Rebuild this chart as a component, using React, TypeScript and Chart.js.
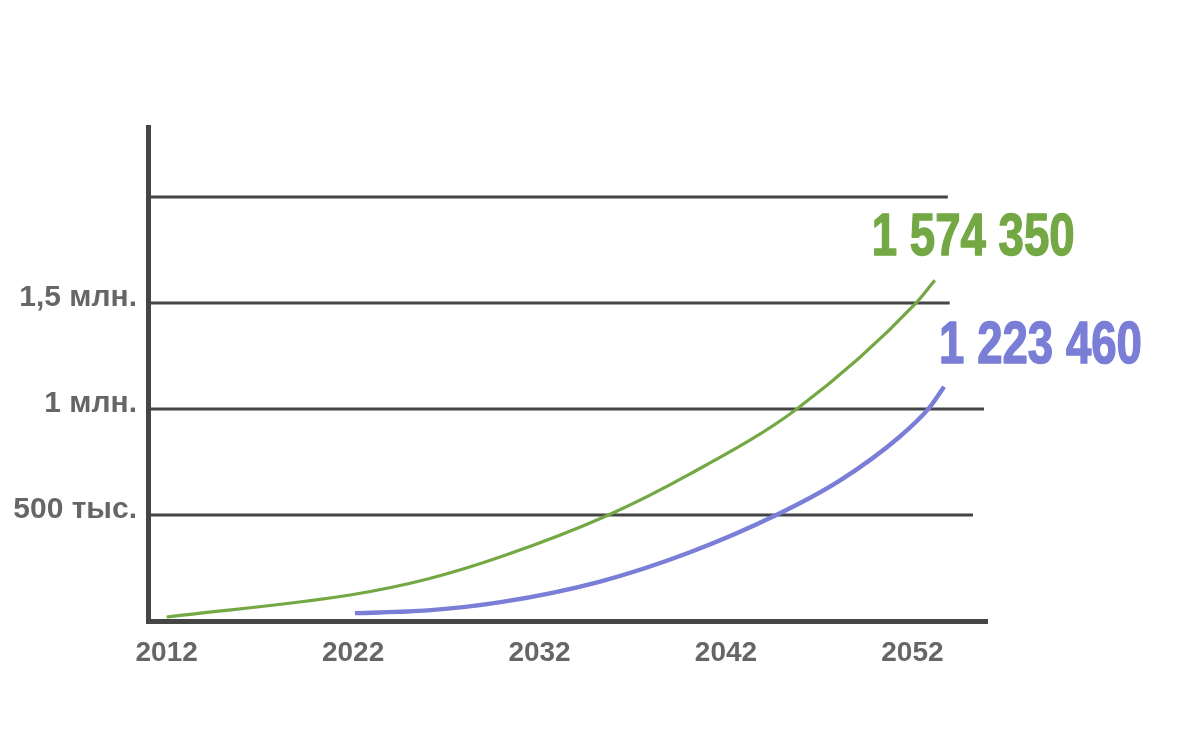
import React, { useEffect, useRef } from 'react';
import { Chart, registerables } from 'chart.js';

Chart.register(...registerables);

// ---- data ----
const greenYears = [2012, 2022, 2026, 2030, 2035.7, 2040, 2045.8, 2052.2, 2053.2];
const greenValues = [19000, 125000, 198000, 305000, 500000, 690000, 1000000, 1500000, 1607000];

const blueYears = [2022.1, 2026, 2030, 2035.2, 2040, 2044.7, 2048.1, 2051.3, 2052.9, 2053.7];
const blueValues = [37000, 50000, 90000, 185000, 322000, 500000, 662000, 868000, 1005000, 1105000];

const xTickYears = [2012, 2022, 2032, 2042, 2052];
const yTickValues = [500000, 1000000, 1500000];
const yTickLabels = ['500 тыс.', '1 млн.', '1,5 млн.'];
const gridValues = [500000, 1000000, 1500000, 2000000];
const endLabels = ['1 574 350', '1 223 460'];

// ---- styles ----
const FONT = '"Liberation Sans", Arial, sans-serif';
const GREEN = '#74a844';
const BLUE = '#7a7ed6';
const AXIS = '#454545';
const TICK = '#666666';
const gridEndYears = [2055.25, 2055.84, 2054.0, 2053.9];
const labelOffsets = [
  { dx: -63, dy: -25 },
  { dx: -5, dy: -24 },
];

const gridPlugin = {
  id: 'customGrid',
  beforeDatasetsDraw(chart: any) {
    const { ctx, chartArea, scales } = chart;
    ctx.save();
    ctx.strokeStyle = AXIS;
    ctx.lineWidth = 3;
    gridValues.forEach((v, i) => {
      const y = scales.y.getPixelForValue(v);
      const xEnd = scales.x.getPixelForValue(gridEndYears[i]);
      ctx.beginPath();
      ctx.moveTo(chartArea.left, y);
      ctx.lineTo(xEnd, y);
      ctx.stroke();
    });
    ctx.restore();
  },
};

const endLabelPlugin = {
  id: 'endLabels',
  afterDatasetsDraw(chart: any) {
    const ctx = chart.ctx;
    chart.data.datasets.forEach((ds: any, i: number) => {
      const meta = chart.getDatasetMeta(i);
      const pt = meta.data[meta.data.length - 1];
      const off = labelOffsets[i];
      ctx.save();
      ctx.font = `bold 60px ${FONT}`;
      ctx.fillStyle = ds.borderColor;
      ctx.strokeStyle = ds.borderColor;
      ctx.lineWidth = 1.5;
      ctx.lineJoin = 'round';
      ctx.textBaseline = 'alphabetic';
      ctx.textAlign = 'left';
      ctx.translate(pt.x + off.dx, pt.y + off.dy);
      ctx.scale(0.76, 1);
      ctx.fillText(endLabels[i], 0, 0);
      ctx.strokeText(endLabels[i], 0, 0);
      ctx.restore();
    });
  },
};

export default function App() {
  const ref = useRef<HTMLCanvasElement>(null);

  useEffect(() => {
    const canvas = ref.current;
    if (!canvas) return;
    const chart = new Chart(canvas, {
      type: 'line',
      data: {
        datasets: [
          {
            data: greenYears.map((x, i) => ({ x, y: greenValues[i] })),
            borderColor: GREEN,
            borderWidth: 3.2,
            pointRadius: 0,
            cubicInterpolationMode: 'monotone',
            fill: false,
          },
          {
            data: blueYears.map((x, i) => ({ x, y: blueValues[i] })),
            borderColor: BLUE,
            borderWidth: 4.4,
            pointRadius: 0,
            cubicInterpolationMode: 'monotone',
            fill: false,
          },
        ],
      } as any,
      options: {
        animation: false,
        responsive: false,
        layout: { padding: { left: 0, top: 127, right: 213, bottom: 0 } },
        plugins: {
          legend: { display: false },
          tooltip: { enabled: false },
        },
        scales: {
          x: {
            type: 'linear',
            min: 2011,
            max: 2056,
            afterFit: (s: any) => {
              s.height = 114;
            },
            afterBuildTicks: (s: any) => {
              s.ticks = xTickYears.map((v) => ({ value: v }));
            },
            grid: { display: false, drawTicks: false },
            border: { display: true, color: AXIS, width: 5 },
            ticks: {
              color: TICK,
              font: { family: FONT, size: 28, weight: 'bold' },
              padding: 15,
              maxRotation: 0,
              autoSkip: false,
              callback: (v: any) => String(v),
            },
          },
          y: {
            type: 'linear',
            min: 0,
            max: 2330000,
            afterFit: (s: any) => {
              s.width = 148;
            },
            afterBuildTicks: (s: any) => {
              s.ticks = yTickValues.map((v) => ({ value: v }));
            },
            grid: { display: false, drawTicks: false },
            border: { display: true, color: AXIS, width: 5 },
            ticks: {
              color: TICK,
              font: { family: FONT, size: 30, weight: 'bold' },
              padding: 11,
              labelOffset: -5,
              callback: (_v: any, i: number) => yTickLabels[i] ?? '',
            },
          },
        },
      } as any,
      plugins: [gridPlugin, endLabelPlugin],
    });
    return () => chart.destroy();
  }, []);

  return (
    <div style={{ position: 'fixed', left: 0, top: 0, width: 1200, height: 735, background: '#fff' }}>
      <canvas ref={ref} width={1200} height={735} style={{ display: 'block', width: 1200, height: 735 }} />
    </div>
  );
}
